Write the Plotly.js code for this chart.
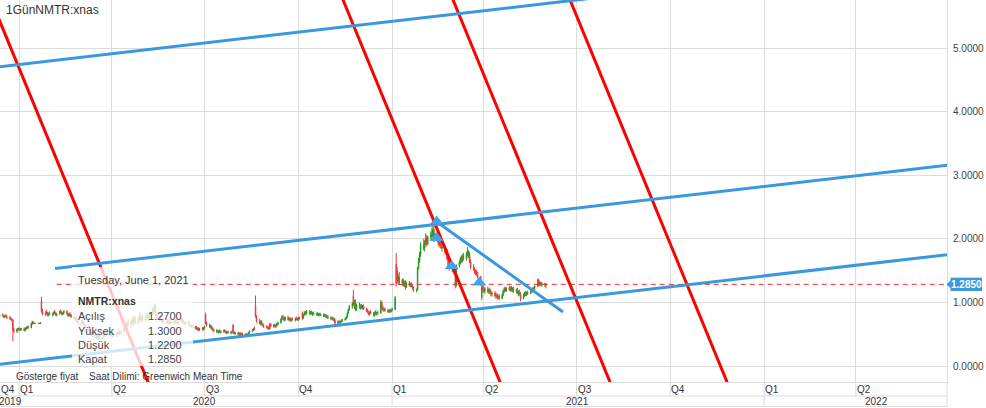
<!DOCTYPE html>
<html><head><meta charset="utf-8">
<script src="https://cdn.plot.ly/plotly-3.0.1.min.js"></script>
<style>html,body{margin:0;padding:0;background:#fff;overflow:hidden}#chart{width:986px;height:408px}</style>
</head><body><div id="chart"></div>
<script>
// ---------- data ----------
const startDate = '2019-12-13';
const openV = [
.78,.80,.79,.77,.79,.78,.76,.75,.73,.72,.56,.55,.57,
.59,.58,.57,.58,.56,.59,.60,.61,.60,.66,.69,.67,.67,.67,.67,.67,1.02,.86,.82,.84,.83,.80,.83,
.81,.82,.85,.83,.80,.82,.86,.84,.81,.84,.86,.82,.79,.82,.80,.77,.74,.76,.73,.70,
.67,.70,.68,.65,.62,.64,.56,.60,.54,.48,.53,.45,.49,.44,.47,.43,.45,.51,.49,.52,.48,.50,
.52,.48,.50,.47,.52,.54,.50,.54,.53,.59,.64,.60,.68,.65,.70,.68,.73,.76,.69,.74,.78,.72,
.76,.72,.77,.80,.75,.78,.84,.88,.85,.95,.80,.74,.76,.72,.70,.72,.70,.68,.71,.69,.66,
.70,.69,.71,.70,.67,.70,.74,.71,.68,.66,.69,.66,.64,.62,.64,.61,.60,.58,.60,.56,.59,.57,
.60,.80,.68,.64,.62,.63,.58,.57,.55,.56,.53,.55,.53,.54,.56,.54,.52,.54,.52,.53,.64,.53,.51,
.52,.50,.52,.49,.51,.49,.50,.48,.50,.52,.55,.56,.59,.95,.78,.70,.67,.70,.65,.64,.62,
.61,.60,.58,.66,.62,.65,.62,.64,.66,.68,.74,.78,.75,.72,.77,.73,.75,.72,.74,.73,.75,.74,
.73,.76,.84,.75,.81,.84,.82,.86,.83,.85,.82,.84,.81,.83,.80,.82,.80,.81,.78,.80,.77,.78,
.75,.76,.74,.75,.72,.67,.70,.68,.70,.71,.73,.75,.77,.83,.89,.94,1.10,.97,1.00,.88,.96,
.92,.95,.91,.94,.89,.87,.84,.82,.85,.83,.79,.85,.82,.84,.83,1.00,.92,.88,.89,.87,.85,.88,.86,
.88,.89,1.60,1.50,1.34,1.40,1.30,1.35,1.28,1.31,1.24,1.30,1.27,1.29,1.26,1.22,1.19,1.20,1.54,1.66,1.76,
1.90,1.86,1.94,2.02,1.92,2.03,2.08,2.04,2.15,1.98,2.06,1.95,1.90,1.96,1.86,1.88,1.78,1.82,1.68,1.58,
1.54,1.56,1.48,1.50,1.26,1.58,1.63,1.70,1.65,1.74,1.68,1.77,1.75,1.78,1.64,1.55,1.52,1.47,1.49,1.44,1.40,1.08,1.24,
1.20,1.18,1.22,1.17,1.20,1.15,1.13,1.15,1.10,1.12,1.08,1.10,1.06,1.12,1.18,1.22,1.18,1.23,1.20,1.24,1.19,1.22,
1.17,1.20,1.15,1.17,1.13,1.06,1.12,1.15,1.12,1.16,1.14,1.18,1.20,1.19,1.23,1.25,1.35,1.28,1.31,1.27,1.30,
1.27];
const highV = [
.82,.83,.81,.80,.82,.80,.79,.77,.75,.74,.60,.59,.60,
.61,.60,.60,.61,.60,.62,.63,.64,.68,.71,.70,.68,.68,.68,.68,.69,1.09,.90,.86,.88,.85,.84,.86,
.84,.86,.88,.85,.83,.87,.89,.86,.85,.88,.88,.84,.83,.85,.82,.80,.78,.79,.75,.73,
.72,.74,.71,.68,.66,.65,.62,.62,.56,.55,.54,.50,.50,.48,.49,.46,.52,.54,.53,.53,.52,.54,
.53,.51,.52,.53,.56,.55,.55,.57,.60,.66,.68,.70,.74,.72,.78,.75,.80,.78,.76,.82,.85,.78,
.80,.78,.83,.84,.79,.86,.92,.93,.98,.97,.84,.78,.80,.75,.74,.76,.72,.73,.74,.72,.71,
.73,.72,.74,.72,.71,.76,.77,.73,.70,.70,.71,.69,.66,.65,.65,.63,.63,.61,.61,.60,.61,.62,
.63,.84,.70,.67,.65,.64,.61,.59,.58,.57,.56,.58,.56,.57,.58,.56,.55,.56,.55,.56,.66,.55,.54,
.54,.53,.53,.52,.53,.51,.52,.51,.53,.56,.58,.60,.62,1.11,.80,.74,.72,.72,.68,.66,.64,
.64,.62,.67,.68,.66,.67,.65,.68,.70,.75,.80,.80,.77,.78,.79,.76,.77,.75,.77,.76,.78,.76,
.77,.78,.86,.82,.86,.87,.88,.88,.86,.87,.85,.86,.84,.85,.83,.84,.83,.83,.82,.82,.80,.80,
.78,.78,.77,.76,.74,.72,.72,.71,.73,.74,.76,.78,.84,.90,.96,1.00,1.20,1.04,1.05,.98,1.00,
.97,.98,.96,.97,.92,.90,.87,.86,.88,.85,.86,.88,.85,.87,1.04,1.02,.95,.91,.92,.90,.89,.90,.90,
.92,1.10,1.78,1.56,1.45,1.48,1.38,1.37,1.34,1.35,1.33,1.34,1.31,1.32,1.28,1.25,1.22,1.56,1.70,1.80,1.95,
2.00,1.98,2.09,2.06,2.05,2.12,2.18,2.22,2.20,2.10,2.12,2.02,1.98,1.99,1.92,1.90,1.85,1.84,1.72,1.64,
1.62,1.58,1.55,1.54,1.60,1.66,1.72,1.74,1.76,1.78,1.80,1.87,1.82,1.80,1.68,1.60,1.56,1.52,1.51,1.48,1.42,1.27,1.28,
1.26,1.24,1.25,1.22,1.23,1.19,1.17,1.18,1.14,1.15,1.12,1.13,1.14,1.20,1.24,1.25,1.24,1.27,1.25,1.26,1.24,1.25,
1.22,1.23,1.19,1.20,1.16,1.14,1.17,1.18,1.17,1.19,1.19,1.22,1.24,1.25,1.27,1.38,1.37,1.33,1.33,1.32,1.31,
1.30];
const lowV = [
.76,.78,.76,.75,.77,.74,.73,.72,.70,.39,.52,.52,.54,
.56,.55,.55,.55,.54,.57,.58,.59,.60,.65,.66,.66,.66,.66,.66,.66,.84,.80,.79,.81,.78,.78,.80,
.78,.80,.82,.79,.78,.81,.83,.80,.80,.82,.81,.78,.77,.79,.76,.73,.72,.72,.68,.65,
.64,.66,.64,.60,.58,.55,.54,.53,.46,.46,.44,.43,.42,.41,.42,.40,.44,.47,.46,.47,.46,.48,
.46,.45,.46,.46,.50,.49,.49,.51,.52,.57,.58,.59,.63,.60,.66,.62,.70,.66,.65,.72,.70,.68,
.70,.70,.74,.73,.70,.76,.80,.82,.84,.78,.72,.70,.71,.68,.67,.69,.66,.66,.67,.65,.65,
.67,.66,.68,.66,.65,.69,.70,.67,.64,.64,.65,.63,.61,.60,.60,.58,.57,.56,.55,.55,.56,.56,
.58,.65,.62,.60,.59,.57,.55,.53,.52,.52,.51,.52,.51,.52,.53,.51,.50,.51,.50,.51,.51,.50,.49,
.48,.47,.48,.47,.48,.46,.47,.46,.49,.51,.53,.55,.56,.76,.68,.66,.64,.64,.62,.60,.59,
.58,.57,.58,.61,.60,.61,.60,.62,.64,.67,.72,.73,.70,.71,.72,.70,.71,.69,.71,.70,.72,.71,
.71,.73,.72,.74,.79,.80,.81,.81,.80,.81,.79,.80,.79,.79,.78,.79,.78,.77,.77,.76,.75,.74,
.72,.73,.71,.70,.65,.66,.67,.66,.68,.69,.71,.73,.76,.82,.87,.90,.94,.90,.86,.87,.90,
.89,.90,.89,.88,.85,.83,.80,.79,.82,.78,.78,.81,.79,.81,.83,.90,.87,.85,.86,.84,.83,.84,.84,
.86,.88,1.25,1.30,1.28,1.27,1.26,1.25,1.24,1.20,1.23,1.25,1.24,1.24,1.20,1.17,1.16,1.19,1.52,1.62,1.72,
1.82,1.80,1.90,1.88,1.90,1.98,2.00,2.02,1.95,1.96,1.92,1.88,1.86,1.84,1.80,1.76,1.74,1.66,1.55,1.50,
1.48,1.45,1.44,1.22,1.25,1.55,1.60,1.62,1.63,1.66,1.66,1.72,1.70,1.62,1.52,1.50,1.45,1.43,1.42,1.38,1.26,1.04,1.16,
1.15,1.14,1.15,1.13,1.14,1.10,1.09,1.08,1.06,1.06,1.04,1.04,1.05,1.10,1.15,1.16,1.17,1.18,1.17,1.17,1.16,1.15,
1.14,1.13,1.10,1.11,1.02,1.05,1.09,1.10,1.10,1.12,1.13,1.15,1.17,1.18,1.20,1.24,1.26,1.25,1.26,1.25,1.24,
1.22];
const closeV = [
.80,.79,.77,.79,.78,.76,.75,.73,.72,.56,.55,.58,.59,
.58,.57,.59,.56,.59,.60,.62,.60,.67,.70,.67,.67,.67,.67,.67,.68,.86,.82,.84,.83,.80,.83,.81,
.82,.85,.83,.80,.82,.86,.84,.81,.84,.86,.82,.79,.82,.80,.77,.74,.76,.73,.70,.67,
.70,.68,.65,.62,.64,.56,.60,.54,.48,.53,.45,.49,.44,.47,.43,.45,.51,.49,.52,.48,.50,.52,
.48,.50,.47,.52,.54,.50,.54,.53,.59,.64,.60,.68,.65,.70,.68,.73,.76,.69,.74,.78,.72,.76,
.72,.77,.80,.75,.78,.84,.88,.85,.95,.80,.74,.76,.72,.70,.72,.70,.68,.71,.69,.66,.70,
.69,.71,.70,.67,.70,.74,.71,.68,.66,.69,.66,.64,.62,.64,.61,.60,.58,.60,.56,.59,.57,.60,
.62,.68,.64,.62,.63,.58,.57,.55,.56,.53,.55,.53,.54,.56,.54,.52,.54,.52,.53,.54,.53,.51,.52,
.50,.52,.49,.51,.49,.50,.48,.50,.52,.55,.56,.59,.58,.78,.70,.67,.70,.65,.64,.62,.61,
.60,.58,.66,.62,.65,.62,.64,.66,.68,.74,.78,.75,.72,.77,.73,.75,.72,.74,.73,.75,.74,.73,
.76,.74,.75,.81,.84,.82,.86,.83,.85,.82,.84,.81,.83,.80,.82,.80,.81,.78,.80,.77,.78,.75,
.76,.74,.75,.72,.67,.70,.68,.70,.71,.73,.75,.77,.83,.89,.94,.98,.97,1.00,.88,.96,.92,
.95,.91,.94,.89,.87,.84,.82,.85,.83,.79,.85,.82,.84,.83,1.00,.92,.88,.89,.87,.85,.88,.86,.88,
.89,1.07,1.30,1.34,1.40,1.30,1.35,1.28,1.31,1.24,1.30,1.27,1.29,1.26,1.22,1.19,1.20,1.54,1.66,1.76,1.90,
1.86,1.94,2.02,1.92,2.03,2.08,2.04,2.15,1.98,2.06,1.95,1.90,1.96,1.86,1.88,1.78,1.82,1.68,1.58,1.54,
1.56,1.48,1.50,1.26,1.58,1.63,1.70,1.65,1.74,1.68,1.77,1.75,1.78,1.64,1.55,1.52,1.47,1.49,1.44,1.40,1.28,1.24,1.20,
1.18,1.22,1.17,1.20,1.15,1.13,1.15,1.10,1.12,1.08,1.10,1.06,1.12,1.18,1.22,1.18,1.23,1.20,1.24,1.19,1.22,1.17,
1.20,1.15,1.17,1.13,1.06,1.12,1.15,1.12,1.16,1.14,1.18,1.20,1.19,1.23,1.25,1.35,1.28,1.31,1.27,1.30,1.27,
1.285];

const lastPrice = 1.285;
const lastPriceStart = '2020-02-07';

const redLinesX = [['2019-11-28 10:00','2020-05-07 19:00'],['2020-11-07 18:00','2021-04-18 03:00'],
                   ['2021-02-23 16:00','2021-08-04 01:00'],['2021-06-18 11:00','2021-11-26 20:00']];
const redLinesY = [[6.0,-0.3],[6.0,-0.3],[6.0,-0.3],[6.0,-0.3]];
const blueLinesX = [['2019-11-23 17:00','2022-07-12 05:00'],['2020-02-05 07:00','2022-07-12 05:00'],
                    ['2019-11-23 17:00','2022-07-12 05:00'],['2021-02-14 01:00','2021-06-17 16:00']];
const blueLinesY = [[4.674,6.459],[1.534,3.182],[-0.010,1.775],[2.266,0.850]];
const markX = ['2021-02-13 19:00','2021-02-13 17:00','2021-02-28 12:00','2021-03-27 14:00'];
const markY = [2.276,2.016,1.575,1.316];

const quarterDates = ['2020-01-01','2020-04-01','2020-07-01','2020-10-01','2021-01-01','2021-04-01','2021-07-01','2021-10-01','2022-01-01','2022-04-01'];
const quarterLabels = ['Q1','Q2','Q3','Q4','Q1','Q2','Q3','Q4','Q1','Q2'];
const firstQuarterLabel = 'Q4';
const yearDates = ['2020-01-01','2021-01-01','2022-01-01'];
const yearLabels = ['2019','2020','2021','2022'];

const chartTitle = '1GünNMTR:xnas';
const tipDate = 'Tuesday, June 1, 2021';
const tipSymbol = 'NMTR:xnas';
const tipLabels = ['Açılış','Yüksek','Düşük','Kapat'];
const tipValues = ['1.2700','1.3000','1.2200','1.2850'];
const footLeft = 'Gösterge fiyat';
const footRight = 'Saat Dilimi: Greenwich Mean Time';

// ---------- build ----------
const n = Math.min(openV.length, highV.length, lowV.length, closeV.length);
const dates = [];
(function(){
  const p = startDate.split('-').map(Number);
  let t = Date.UTC(p[0], p[1]-1, p[2]);
  while (dates.length < n) {
    const d = new Date(t);
    const wd = d.getUTCDay();
    if (wd !== 0 && wd !== 6) dates.push(d.toISOString().slice(0,10));
    t += 86400000;
  }
})();

const W = 947, H = 382;
const px = x => x / W;
const py = y => (H - y) / H;
const FONT = 'Liberation Sans, Arial, sans-serif';
const X_RANGE = ['2019-12-13 08:00','2022-06-29 10:00'];
const BLUE = '#3a98dc', RED = '#ff0000';

const traces = [];
traces.push({
  type: 'candlestick', x: dates.slice(0,n), open: openV.slice(0,n), high: highV.slice(0,n),
  low: lowV.slice(0,n), close: closeV.slice(0,n), hoverinfo: 'skip', whiskerwidth: 0,
  increasing: {line: {color: '#1c9e1c', width: 1}, fillcolor: '#1c9e1c'},
  decreasing: {line: {color: '#ee3b3b', width: 1}, fillcolor: '#ee3b3b'}
});
traces.push({type:'scatter', mode:'lines', x:[lastPriceStart, X_RANGE[1]], y:[lastPrice,lastPrice],
  line:{color:'#f03030', width:1, dash:'5px,4px'}, hoverinfo:'skip'});
redLinesX.forEach((xs,i) => traces.push({type:'scatter', mode:'lines', x:xs, y:redLinesY[i],
  line:{color:RED, width:3}, hoverinfo:'skip'}));
blueLinesX.forEach((xs,i) => traces.push({type:'scatter', mode:'lines', x:xs, y:blueLinesY[i],
  line:{color:BLUE, width:3}, hoverinfo:'skip'}));
traces.push({type:'scatter', mode:'markers', x:markX, y:markY, hoverinfo:'skip',
  marker:{symbol:'triangle-up', size:12, color:'#41a3ea', line:{width:0}}});

const shapes = [];
const GRID = '#dcdcdc';
// axis rows
shapes.push({type:'line', xref:'paper', yref:'paper', x0:0, x1:1, y0:-14/H, y1:-14/H, line:{color:GRID, width:1}});
shapes.push({type:'line', xref:'paper', yref:'paper', x0:0, x1:1, y0:-24.5/H, y1:-24.5/H, line:{color:GRID, width:1}});
shapes.push({type:'line', xref:'paper', yref:'paper', x0:1, x1:1, y0:-25/H, y1:0, line:{color:GRID, width:1}});
quarterDates.forEach(d => shapes.push({type:'line', xref:'x', yref:'paper', x0:d, x1:d, y0:-14/H, y1:0, line:{color:GRID, width:1}}));
yearDates.forEach(d => shapes.push({type:'line', xref:'x', yref:'paper', x0:d, x1:d, y0:-25/H, y1:-14/H, line:{color:GRID, width:1}}));
// tooltip veil
shapes.push({type:'rect', xref:'paper', yref:'paper', x0:px(72), x1:px(193), y0:py(366), y1:py(267),
  fillcolor:'rgba(255,255,255,0.78)', line:{width:0}, layer:'above'});
// last price tag
shapes.push({type:'rect', xref:'paper', yref:'y', x0:px(950.5), x1:px(982), y0:lastPrice-0.105, y1:lastPrice+0.105,
  fillcolor:BLUE, line:{width:0}, layer:'above'});
shapes.push({type:'path', xref:'paper', yref:'y', layer:'above', fillcolor:BLUE, line:{width:0},
  path:`M ${px(946.5)},${lastPrice} L ${px(951)},${lastPrice+0.07} L ${px(951)},${lastPrice-0.07} Z`});

const ann = [];
const txt = (text, x, y, opts) => Object.assign({text, x, y, xref:'paper', yref:'paper', showarrow:false,
  xanchor:'left', yanchor:'middle', font:{family:FONT, size:10, color:'#333'}}, opts||{});
ann.push(txt(chartTitle, px(4), py(10), {font:{family:FONT, size:12, color:'#333'}}));
ann.push(txt(firstQuarterLabel, 0, py(389), {xshift:-1}));
quarterDates.forEach((d,i) => ann.push(txt(quarterLabels[i], d, py(389), {xref:'x', xshift:-1})));
ann.push(txt(yearLabels[0], px(10.5), py(401.5), {xanchor:'center'}));
ann.push(txt(yearLabels[1], '2020-07-01', py(401.5), {xref:'x', xanchor:'center'}));
ann.push(txt(yearLabels[2], '2021-07-02', py(401.5), {xref:'x', xanchor:'center'}));
ann.push(txt(yearLabels[3], px(876.5), py(401.5), {xanchor:'center'}));
ann.push(txt(tipDate, px(76), py(280), {font:{family:FONT, size:11, color:'#333'}}));
ann.push(txt('<b>'+tipSymbol+'</b>', px(76), py(300.5), {font:{family:FONT, size:10.5, color:'#333'}}));
const tipYs = [316, 330.5, 345, 359];
tipLabels.forEach((l,i) => {
  ann.push(txt(l, px(76), py(tipYs[i]), {font:{family:FONT, size:11, color:'#444'}}));
  ann.push(txt(tipValues[i], px(184), py(tipYs[i]), {xanchor:'right', font:{family:FONT, size:11, color:'#444'}}));
});
ann.push(txt(footLeft, px(14), py(376)));
ann.push(txt(footRight, px(87), py(376)));
ann.push(txt('<b>'+lastPrice.toFixed(4)+'</b>', px(966.3), lastPrice, {yref:'y', xanchor:'center', font:{family:FONT, size:10, color:'#fff'}}));

const layout = {
  width: 986, height: 408, margin: {l:0, r:39, t:0, b:26, pad:0},
  paper_bgcolor:'#fff', plot_bgcolor:'#fff', showlegend:false, hovermode:false,
  font:{family:FONT, size:10, color:'#444'},
  xaxis:{type:'date', range:X_RANGE, showgrid:true, gridcolor:GRID, gridwidth:1, dtick:'M3', tick0:'2020-01-01',
    showticklabels:false, ticks:'', showline:true, linecolor:GRID, zeroline:false,
    rangeslider:{visible:false}, fixedrange:true},
  yaxis:{side:'right', range:[-0.2518, 5.760], dtick:1, tick0:0, tickformat:'.4f', showgrid:true, gridcolor:GRID,
    showline:true, linecolor:GRID, zeroline:false, ticks:'', ticklabelstandoff:3,
    tickfont:{family:FONT, size:10, color:'#444'}, fixedrange:true},
  shapes, annotations: ann
};
Plotly.newPlot('chart', traces, layout, {displayModeBar:false, staticPlot:true});
</script>
</body></html>
